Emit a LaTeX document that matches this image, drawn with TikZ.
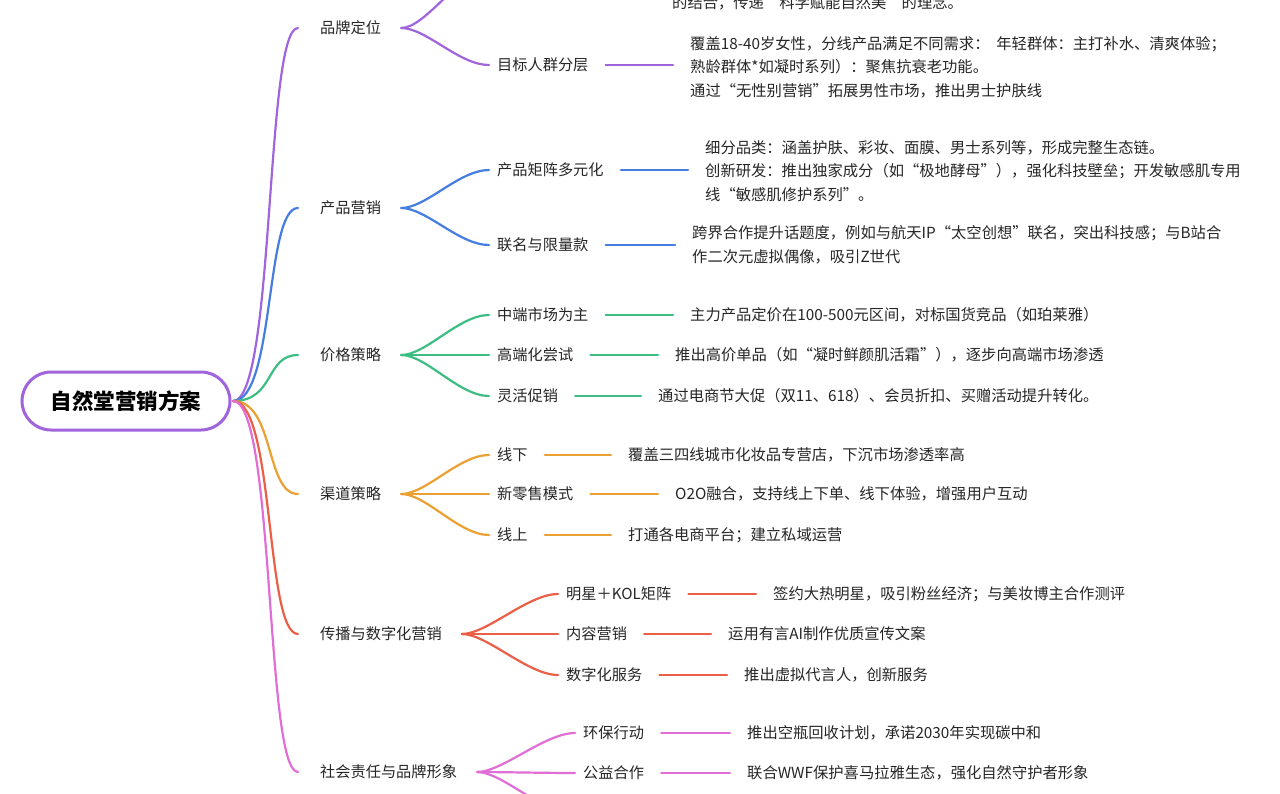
\documentclass[tikz,border=0pt]{standalone}
\usepackage{fontspec}
\setmainfont{Noto Sans CJK SC}
\begin{document}
\begin{tikzpicture}[x=1pt,y=-1pt,
  lab/.style={anchor=west,inner sep=0pt,font=\fontsize{15.2}{17}\selectfont,text=black!85},
  leaf/.style={anchor=west,inner sep=0pt,align=left,font=\fontsize{15.3}{23.5}\selectfont,text=black!85},
  br/.style={line width=2.2pt,line cap=round},
  pu/.style={color={rgb,255:red,160;green,100;blue,220}},
  bl/.style={color={rgb,255:red,70;green,125;blue,225}},
  gr/.style={color={rgb,255:red,60;green,190;blue,130}},
  or/.style={color={rgb,255:red,235;green,160;blue,50}},
  rd/.style={color={rgb,255:red,235;green,95;blue,70}},
  pk/.style={color={rgb,255:red,225;green,110;blue,215}}]
\useasboundingbox (0,0) rectangle (1280,793);
\clip (0,0) rectangle (1280,793);
\fill[white] (0,0) rectangle (1280,793);
% root
\node[draw={rgb,255:red,160;green,100;blue,220},line width=3pt,rounded corners=29pt,minimum width=208pt,minimum height=58pt,font=\fontsize{21.5}{24}\selectfont\bfseries] (root) at (126,401) {自然堂营销方案};
% level 1
\node[lab] (a) at (320,28) {品牌定位};
\node[lab] (b) at (320,208) {产品营销};
\node[lab] (c) at (320,355) {价格策略};
\node[lab] (d) at (320,494) {渠道策略};
\node[lab] (e) at (320,634) {传播与数字化营销};
\node[lab] (f) at (320,772) {社会责任与品牌形象};
\coordinate (o) at (233,401);
\foreach \n/\s in {a/pu,b/bl,c/gr,d/or,e/rd,f/pk}
  \draw[br,\s] (o) .. controls (275,401) and (265,0 |- \n.west) .. ([xshift=-22pt]\n.west);
% level 2
\node[lab] (a2) at (497,65) {目标人群分层};
\coordinate (a1) at (490,-30);
\node[lab] (b1) at (497,170) {产品矩阵多元化};
\node[lab] (b2) at (497,245) {联名与限量款};
\node[lab] (c1) at (497,315) {中端市场为主};
\node[lab] (c2) at (497,355) {高端化尝试};
\node[lab] (c3) at (497,396) {灵活促销};
\node[lab] (d1) at (497,455) {线下};
\node[lab] (d2) at (497,494) {新零售模式};
\node[lab] (d3) at (497,535) {线上};
\node[lab] (e1) at (566,594) {明星＋KOL矩阵};
\node[lab] (e2) at (566,634) {内容营销};
\node[lab] (e3) at (566,675) {数字化服务};
\node[lab] (f1) at (583,733) {环保行动};
\node[lab] (f2) at (583,773) {公益合作};
\coordinate (f3) at (575,815);
\newcommand\fork[3]{\draw[br,#1] ([xshift=20pt]#2.east) .. controls +(25,0) and +(-30,0) .. #3;}
\fork{pu}{a}{(a1)}
\fork{pu}{a}{([xshift=-8pt]a2.west)}
\fork{bl}{b}{([xshift=-8pt]b1.west)}
\fork{bl}{b}{([xshift=-8pt]b2.west)}
\fork{gr}{c}{([xshift=-8pt]c1.west)}
\fork{gr}{c}{([xshift=-8pt]c2.west)}
\fork{gr}{c}{([xshift=-8pt]c3.west)}
\fork{or}{d}{([xshift=-8pt]d1.west)}
\fork{or}{d}{([xshift=-8pt]d2.west)}
\fork{or}{d}{([xshift=-8pt]d3.west)}
\fork{rd}{e}{([xshift=-8pt]e1.west)}
\fork{rd}{e}{([xshift=-8pt]e2.west)}
\fork{rd}{e}{([xshift=-8pt]e3.west)}
\fork{pk}{f}{([xshift=-8pt]f1.west)}
\fork{pk}{f}{([xshift=-8pt]f2.west)}
\fork{pk}{f}{(f3)}
% leaves
\node[leaf] (a0x) at (672,3) {的结合，传递“科学赋能自然美”的理念。};
\node[leaf] (a2x) at (690,67) {覆盖18-40岁女性，分线产品满足不同需求：\ \ 年轻群体：主打补水、清爽体验；\\熟龄群体*如凝时系列）：聚焦抗衰老功能。\\通过“无性别营销”拓展男性市场，推出男士护肤线};
\node[leaf] (b1x) at (705,171) {细分品类：涵盖护肤、彩妆、面膜、男士系列等，形成完整生态链。\\创新研发：推出独家成分（如“极地酵母”），强化科技壁垒；开发敏感肌专用\\线“敏感肌修护系列”。};
\node[leaf] (b2x) at (692,245) {跨界合作提升话题度，例如与航天IP“太空创想”联名，突出科技感；与B站合\\作二次元虚拟偶像，吸引Z世代};
\node[leaf] (c1x) at (690,315) {主力产品定价在100-500元区间，对标国货竞品（如珀莱雅）};
\node[leaf] (c2x) at (675,355) {推出高价单品（如“凝时鲜颜肌活霜”），逐步向高端市场渗透};
\node[leaf] (c3x) at (658,396) {通过电商节大促（双11、618）、会员折扣、买赠活动提升转化。};
\node[leaf] (d1x) at (628,455) {覆盖三四线城市化妆品专营店，下沉市场渗透率高};
\node[leaf] (d2x) at (675,494) {O2O融合，支持线上下单、线下体验，增强用户互动};
\node[leaf] (d3x) at (628,535) {打通各电商平台；建立私域运营};
\node[leaf] (e1x) at (773,594) {签约大热明星，吸引粉丝经济；与美妆博主合作测评};
\node[leaf] (e2x) at (728,634) {运用有言AI制作优质宣传文案};
\node[leaf] (e3x) at (744,675) {推出虚拟代言人，创新服务};
\node[leaf] (f1x) at (747,733) {推出空瓶回收计划，承诺2030年实现碳中和};
\node[leaf] (f2x) at (747,773) {联合WWF保护喜马拉雅生态，强化自然守护者形象};
\foreach \p/\s in {a2/pu,b1/bl,b2/bl,c1/gr,c2/gr,c3/gr,d1/or,d2/or,d3/or,e1/rd,e2/rd,e3/rd,f1/pk,f2/pk}
  \draw[br,\s] ([xshift=17pt]\p.east) -- ([xshift=-17pt]\p x.west |- \p.east);
\end{tikzpicture}
\end{document}
